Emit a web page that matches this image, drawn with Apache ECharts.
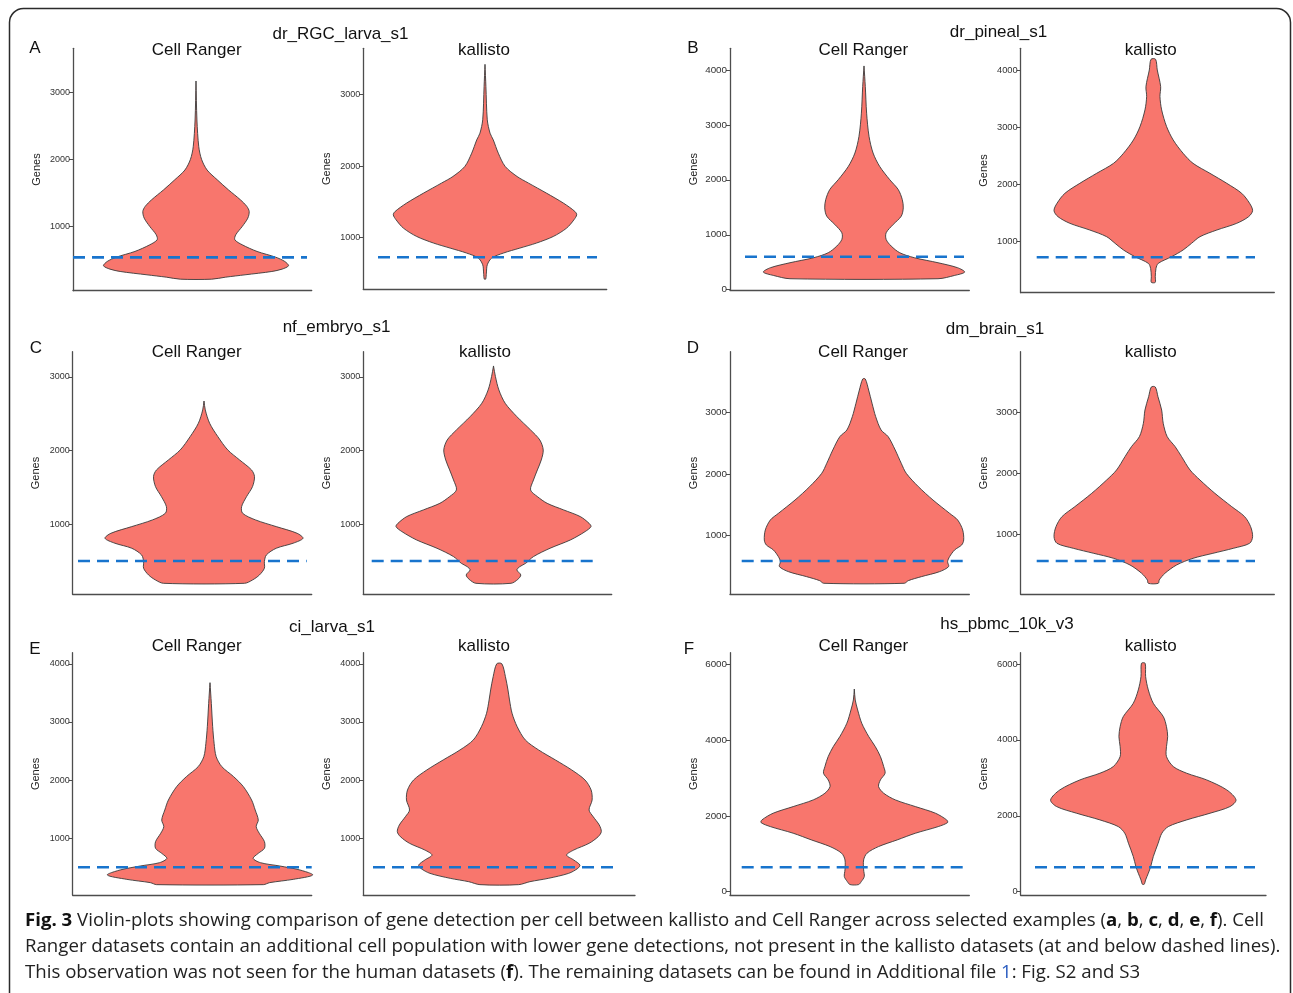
<!DOCTYPE html>
<html><head><meta charset="utf-8">
<script src="https://cdn.jsdelivr.net/npm/echarts@6/dist/echarts.min.js"></script>
<style>html,body{margin:0;padding:0;background:#fff}#c{width:1293px;height:993px}</style>
</head><body><div id="c"></div>
<script>
// ---------- DATA ----------
const datasets = ['dr_RGC_larva_s1', 'dr_pineal_s1', 'nf_embryo_s1', 'dm_brain_s1', 'ci_larva_s1', 'hs_pbmc_10k_v3'];
const panelLetters = ['A', 'B', 'C', 'D', 'E', 'F'];
const methods = ['Cell Ranger', 'kallisto'];
const yName = 'Genes';

// tick labels
const ticksA = [1000, 2000, 3000];
const ticksBcr = [0, 1000, 2000, 3000, 4000];
const ticksBk = [1000, 2000, 3000, 4000];
const ticksC = [1000, 2000, 3000];
const ticksD = [1000, 2000, 3000];
const ticksE = [1000, 2000, 3000, 4000];
const ticksF = [0, 2000, 4000, 6000];

// dashed threshold (genes)
const thresholds = [537, 720, 599, 726, 505, 505, 582, 557, 503, 503, 643, 643];

// violin profiles: genes (ascending) and relative half-width (density, max = 1)
const aCrGenes = [211, 241, 276, 326, 361, 411, 475, 540, 625, 724, 799, 874, 998, 1122, 1221, 1296, 1396, 1545, 1694, 1840, 2000, 2188, 2587, 3169];
const aCrWidth = [0.17, 0.32, 0.53, 0.82, 0.93, 1.0, 0.96, 0.86, 0.66, 0.50, 0.42, 0.43, 0.50, 0.56, 0.575, 0.55, 0.48, 0.35, 0.23, 0.12, 0.06, 0.03, 0.01, 0.0];
const aKGenes = [414, 498, 615, 709, 779, 849, 919, 1012, 1129, 1246, 1316, 1363, 1480, 1620, 1760, 1853, 1994, 2180, 2367, 2461, 2648, 3115, 3426];
const aKWidth = [0.008, 0.015, 0.025, 0.073, 0.2, 0.38, 0.56, 0.745, 0.89, 0.97, 1.0, 0.98, 0.855, 0.67, 0.475, 0.35, 0.22, 0.145, 0.09, 0.055, 0.025, 0.01, 0.0];
const bCrGenes = [200, 260, 321, 400, 491, 582, 673, 794, 915, 1036, 1187, 1338, 1489, 1640, 1822, 2003, 2245, 2487, 2789, 3212, 3696, 4071];
const bCrWidth = [0.735, 0.90, 1.0, 0.93, 0.735, 0.50, 0.355, 0.27, 0.22, 0.22, 0.29, 0.37, 0.39, 0.38, 0.34, 0.255, 0.155, 0.09, 0.05, 0.026, 0.013, 0.0];
const bKGenes = [287, 386, 532, 620, 737, 854, 971, 1088, 1205, 1322, 1439, 1544, 1673, 1849, 2024, 2200, 2375, 2551, 2785, 3019, 3312, 3546, 3721, 4013, 4200];
const bKWidth = [0.02, 0.02, 0.027, 0.05, 0.185, 0.30, 0.385, 0.47, 0.64, 0.84, 0.96, 1.0, 0.97, 0.89, 0.74, 0.57, 0.40, 0.30, 0.20, 0.134, 0.084, 0.067, 0.074, 0.04, 0.023];
const cCrGenes = [203, 248, 316, 407, 497, 587, 678, 746, 813, 881, 971, 1062, 1152, 1242, 1378, 1513, 1649, 1739, 1874, 2010, 2190, 2371, 2552, 2673];
const cCrWidth = [0.41, 0.49, 0.56, 0.61, 0.61, 0.63, 0.73, 0.90, 1.0, 0.94, 0.73, 0.52, 0.39, 0.38, 0.43, 0.49, 0.51, 0.48, 0.36, 0.24, 0.14, 0.057, 0.013, 0.0];
const cKGenes = [203, 257, 316, 384, 429, 474, 565, 678, 791, 904, 971, 1016, 1107, 1197, 1287, 1378, 1468, 1603, 1739, 1874, 2010, 2145, 2281, 2461, 2642, 2823, 3003, 3148];
const cKWidth = [0.18, 0.25, 0.28, 0.24, 0.27, 0.33, 0.41, 0.58, 0.79, 0.94, 1.0, 0.98, 0.89, 0.72, 0.55, 0.45, 0.38, 0.41, 0.45, 0.49, 0.51, 0.475, 0.38, 0.24, 0.12, 0.055, 0.02, 0.0];
const dCrGenes = [220, 263, 328, 409, 491, 572, 653, 762, 843, 924, 1087, 1249, 1357, 1574, 1791, 2007, 2170, 2387, 2604, 2712, 2929, 3145, 3362, 3541];
const dCrWidth = [0.40, 0.44, 0.57, 0.75, 0.84, 0.83, 0.85, 0.90, 0.97, 0.99, 0.98, 0.93, 0.85, 0.685, 0.54, 0.42, 0.37, 0.31, 0.24, 0.17, 0.116, 0.08, 0.046, 0.013];
const dKGenes = [191, 246, 355, 492, 601, 683, 765, 847, 956, 1120, 1284, 1448, 1667, 1885, 2049, 2268, 2432, 2596, 2814, 3033, 3251, 3410];
const dKWidth = [0.05, 0.06, 0.117, 0.235, 0.40, 0.60, 0.805, 0.97, 1.0, 0.98, 0.92, 0.79, 0.62, 0.47, 0.37, 0.285, 0.22, 0.14, 0.10, 0.084, 0.047, 0.02];
const eCrGenes = [205, 239, 296, 371, 457, 525, 583, 657, 743, 829, 944, 1087, 1202, 1316, 1488, 1660, 1889, 2061, 2233, 2405, 2634, 2920, 3320, 3676];
const eCrWidth = [0.52, 0.58, 0.81, 1.0, 0.875, 0.68, 0.49, 0.42, 0.47, 0.53, 0.53, 0.48, 0.45, 0.47, 0.44, 0.405, 0.325, 0.23, 0.115, 0.06, 0.04, 0.026, 0.013, 0.0];
const eKGenes = [205, 256, 313, 399, 485, 543, 628, 714, 800, 915, 1030, 1116, 1230, 1374, 1488, 1660, 1832, 2004, 2176, 2348, 2520, 2691, 2920, 3150, 3379, 3551, 3780, 4000];
const eKWidth = [0.19, 0.30, 0.48, 0.68, 0.77, 0.79, 0.73, 0.66, 0.73, 0.88, 0.97, 1.0, 0.98, 0.92, 0.88, 0.91, 0.90, 0.84, 0.71, 0.55, 0.385, 0.255, 0.175, 0.125, 0.10, 0.085, 0.06, 0.025];
const fCrGenes = [188, 267, 399, 574, 838, 1014, 1189, 1365, 1541, 1716, 1822, 1892, 2068, 2243, 2419, 2595, 2770, 2946, 3122, 3297, 3560, 3824, 4087, 4438, 4789, 5052, 5341];
const fCrWidth = [0.046, 0.075, 0.107, 0.10, 0.10, 0.136, 0.26, 0.46, 0.655, 0.90, 1.0, 0.99, 0.87, 0.655, 0.44, 0.315, 0.26, 0.28, 0.33, 0.315, 0.28, 0.225, 0.155, 0.08, 0.036, 0.01, 0.0];
const fKGenes = [197, 311, 487, 662, 926, 1277, 1541, 1716, 1892, 2068, 2243, 2419, 2683, 2946, 3122, 3297, 3560, 3824, 4087, 4350, 4614, 4965, 5317, 5668, 6018];
const fKWidth = [0.01, 0.025, 0.054, 0.08, 0.108, 0.16, 0.20, 0.27, 0.468, 0.72, 0.935, 1.0, 0.90, 0.683, 0.468, 0.324, 0.25, 0.25, 0.263, 0.25, 0.216, 0.108, 0.054, 0.025, 0.02];

const caption1 = '{b|Fig. 3} Violin-plots showing comparison of gene detection per cell between kallisto and Cell Ranger across selected examples ({b|a}, {b|b}, {b|c}, {b|d}, {b|e}, {b|f}). Cell';
const caption2 = 'Ranger datasets contain an additional cell population with lower gene detections, not present in the kallisto datasets (at and below dashed lines).';
const caption3 = 'This observation was not seen for the human datasets ({b|f}). The remaining datasets can be found in Additional file {l|1}: Fig. S2 and S3';

// ---------- LAYOUT (pixel geometry of each sub-plot) ----------
const profiles = [
  [aCrGenes, aCrWidth], [aKGenes, aKWidth], [bCrGenes, bCrWidth], [bKGenes, bKWidth],
  [cCrGenes, cCrWidth], [cKGenes, cKWidth], [dCrGenes, dCrWidth], [dKGenes, dKWidth],
  [eCrGenes, eCrWidth], [eKGenes, eKWidth], [fCrGenes, fCrWidth], [fKGenes, fKWidth]
];
const tickSets = [ticksA, ticksA, ticksBcr, ticksBk, ticksC, ticksC, ticksD, ticksD, ticksE, ticksE, ticksF, ticksF];
const layout = [
  {L: 73, R: 311.7, T: 48.3, B: 290.7, C: 196, HW: 92.5, yMin: 39, yMax: 3657, dL: 73, dR: 307, fs: 9},
  {L: 363.3, R: 606.7, T: 48.3, B: 289.3, C: 485, HW: 91.7, yMin: 271, yMax: 3651, dL: 378, dR: 597, fs: 9},
  {L: 730, R: 969.3, T: 48.3, B: 290, C: 864, HW: 100.7, yMin: -5, yMax: 4392, dL: 745, dR: 964, fs: 9.8},
  {L: 1020.7, R: 1274.3, T: 48.3, B: 292.7, C: 1153.3, HW: 99.3, yMin: 105, yMax: 4393, dL: 1036.7, dR: 1255, fs: 9.3},
  {L: 72.7, R: 311.7, T: 351.7, B: 594.3, C: 204, HW: 99, yMin: 54, yMax: 3341, dL: 78, dR: 306.7, fs: 9},
  {L: 363.3, R: 611.7, T: 351.7, B: 594.3, C: 493.5, HW: 97.5, yMin: 54, yMax: 3341, dL: 371.7, dR: 597, fs: 9},
  {L: 730, R: 969.3, T: 351.7, B: 594.3, C: 864, HW: 100.7, yMin: 41, yMax: 3985, dL: 741.7, dR: 964, fs: 9.8},
  {L: 1020.7, R: 1274.3, T: 351.7, B: 594.3, C: 1153.3, HW: 99.3, yMin: 11, yMax: 3989, dL: 1036.7, dR: 1255, fs: 9.8},
  {L: 72.7, R: 311.7, T: 652.7, B: 895, C: 210, HW: 102.7, yMin: 27, yMax: 4191, dL: 78, dR: 311.7, fs: 9},
  {L: 363.3, R: 635, T: 652.7, B: 895, C: 499.3, HW: 102, yMin: 27, yMax: 4191, dL: 373, dR: 618, fs: 9},
  {L: 730, R: 969.3, T: 652.7, B: 895, C: 854.3, HW: 93.3, yMin: -87, yMax: 6298, dL: 741.7, dR: 964, fs: 9.8},
  {L: 1020.7, R: 1266, T: 652.7, B: 895, C: 1143.3, HW: 92.7, yMin: -87, yMax: 6298, dL: 1035, dR: 1255, fs: 9.3}
];
const datasetTitlePos = [[340.5, 34], [998.5, 32], [336.5, 327], [995, 329], [332, 627], [1007, 624]];
const letterPos = [[35, 48], [693, 48], [36, 348], [693, 348], [35, 649], [689, 649]];
const methodTitleY = [50, 50, 50, 50, 352.7, 352.7, 352.7, 352.7, 646.7, 646.7, 646.7, 646.7];
const methodTitleX = [196.7, 484, 863.3, 1150.7, 196.7, 485, 863, 1150.7, 196.7, 484, 863.3, 1150.7];

const FONT = '"Liberation Sans", Arial, Helvetica, sans-serif';
const VIOLIN_FILL = '#F8766D';
const DASH_COLOR = '#1874CD';
const AXIS_COLOR = '#4d4d4d';

const grids = [], xAxes = [], yAxes = [], series = [], graphics = [];

layout.forEach((g, i) => {
  grids.push({left: g.L, top: g.T, width: g.R - g.L, height: g.B - g.T, containLabel: false});
  xAxes.push({
    gridIndex: i, type: 'value', min: (g.L - g.C) / g.HW, max: (g.R - g.C) / g.HW,
    axisLine: {show: true, onZero: false, lineStyle: {color: AXIS_COLOR, width: 1.3}},
    axisTick: {show: false}, axisLabel: {show: false}, splitLine: {show: false}
  });
  yAxes.push({
    gridIndex: i, type: 'value', min: g.yMin, max: g.yMax,
    axisLine: {show: true, onZero: false, lineStyle: {color: AXIS_COLOR, width: 1.3}},
    axisTick: {show: true, length: 4, customValues: tickSets[i], lineStyle: {color: AXIS_COLOR, width: 1}},
    axisLabel: {show: true, customValues: tickSets[i], fontSize: g.fs, color: '#333', margin: 3, fontFamily: FONT,
      formatter: v => String(v)},
    splitLine: {show: false},
    name: yName, nameLocation: 'middle', nameGap: 31,
    nameTextStyle: {fontSize: 11, color: '#222', fontFamily: FONT}
  });
  const genes = profiles[i][0], width = profiles[i][1];
  series.push({
    type: 'custom', xAxisIndex: i, yAxisIndex: i, silent: true, z: 2,
    data: genes.map((v, k) => [width[k], v]),
    renderItem: function (params, api) {
      if (params.dataIndex !== 0) return null;
      const pts = [];
      for (let k = 0; k < genes.length; k++) pts.push(api.coord([width[k], genes[k]]));
      for (let k = genes.length - 1; k >= 0; k--) pts.push(api.coord([-width[k], genes[k]]));
      return {type: 'polygon', shape: {points: pts, smooth: 0.3},
        style: {fill: VIOLIN_FILL, stroke: '#3a3a3a', lineWidth: 0.9}};
    }
  });
  series.push({
    type: 'line', xAxisIndex: i, yAxisIndex: i, silent: true, z: 5, symbol: 'none',
    data: [[(g.dL - g.C) / g.HW, thresholds[i]], [(g.dR - g.C) / g.HW, thresholds[i]]],
    lineStyle: {color: DASH_COLOR, width: 2.6, type: [12, 7]}
  });
  graphics.push({
    type: 'text', x: methodTitleX[i], y: methodTitleY[i], silent: true,
    style: {text: methods[i % 2], fontSize: 17, fontFamily: FONT, fill: '#111', align: 'center', verticalAlign: 'middle'}
  });
});

datasets.forEach((d, p) => {
  graphics.push({type: 'text', x: datasetTitlePos[p][0], y: datasetTitlePos[p][1], silent: true,
    style: {text: d, fontSize: 17, fontFamily: FONT, fill: '#111', align: 'center', verticalAlign: 'middle'}});
  graphics.push({type: 'text', x: letterPos[p][0], y: letterPos[p][1], silent: true,
    style: {text: panelLetters[p], fontSize: 17, fontFamily: FONT, fill: '#111', align: 'center', verticalAlign: 'middle'}});
});

// frame
graphics.push({type: 'rect', silent: true, z: -1,
  shape: {x: 9.5, y: 8.5, width: 1281, height: 1100, r: 14},
  style: {fill: 'none', stroke: '#2b2b2b', lineWidth: 1.5}});

const capFont = '"Open Sans", "Noto Sans", sans-serif';
const CAP_SIZE = 18.65;
const capRich = {b: {fontWeight: 'bold', fontSize: CAP_SIZE, fontFamily: capFont, fill: '#111'},
                 l: {fontSize: CAP_SIZE, fontFamily: capFont, fill: '#2a5cc0'}};
[caption1, caption2, caption3].forEach((t, k) => {
  graphics.push({type: 'text', x: 25, y: 921 + k * 26, silent: true,
    style: {text: t, fontSize: CAP_SIZE, fontFamily: capFont, fill: '#222', align: 'left', verticalAlign: 'middle', rich: capRich}});
});

const chart = echarts.init(document.getElementById('c'), null, {renderer: 'canvas'});
chart.setOption({
  animation: false,
  backgroundColor: '#fff',
  grid: grids, xAxis: xAxes, yAxis: yAxes, series: series, graphic: graphics
});
</script></body></html>
